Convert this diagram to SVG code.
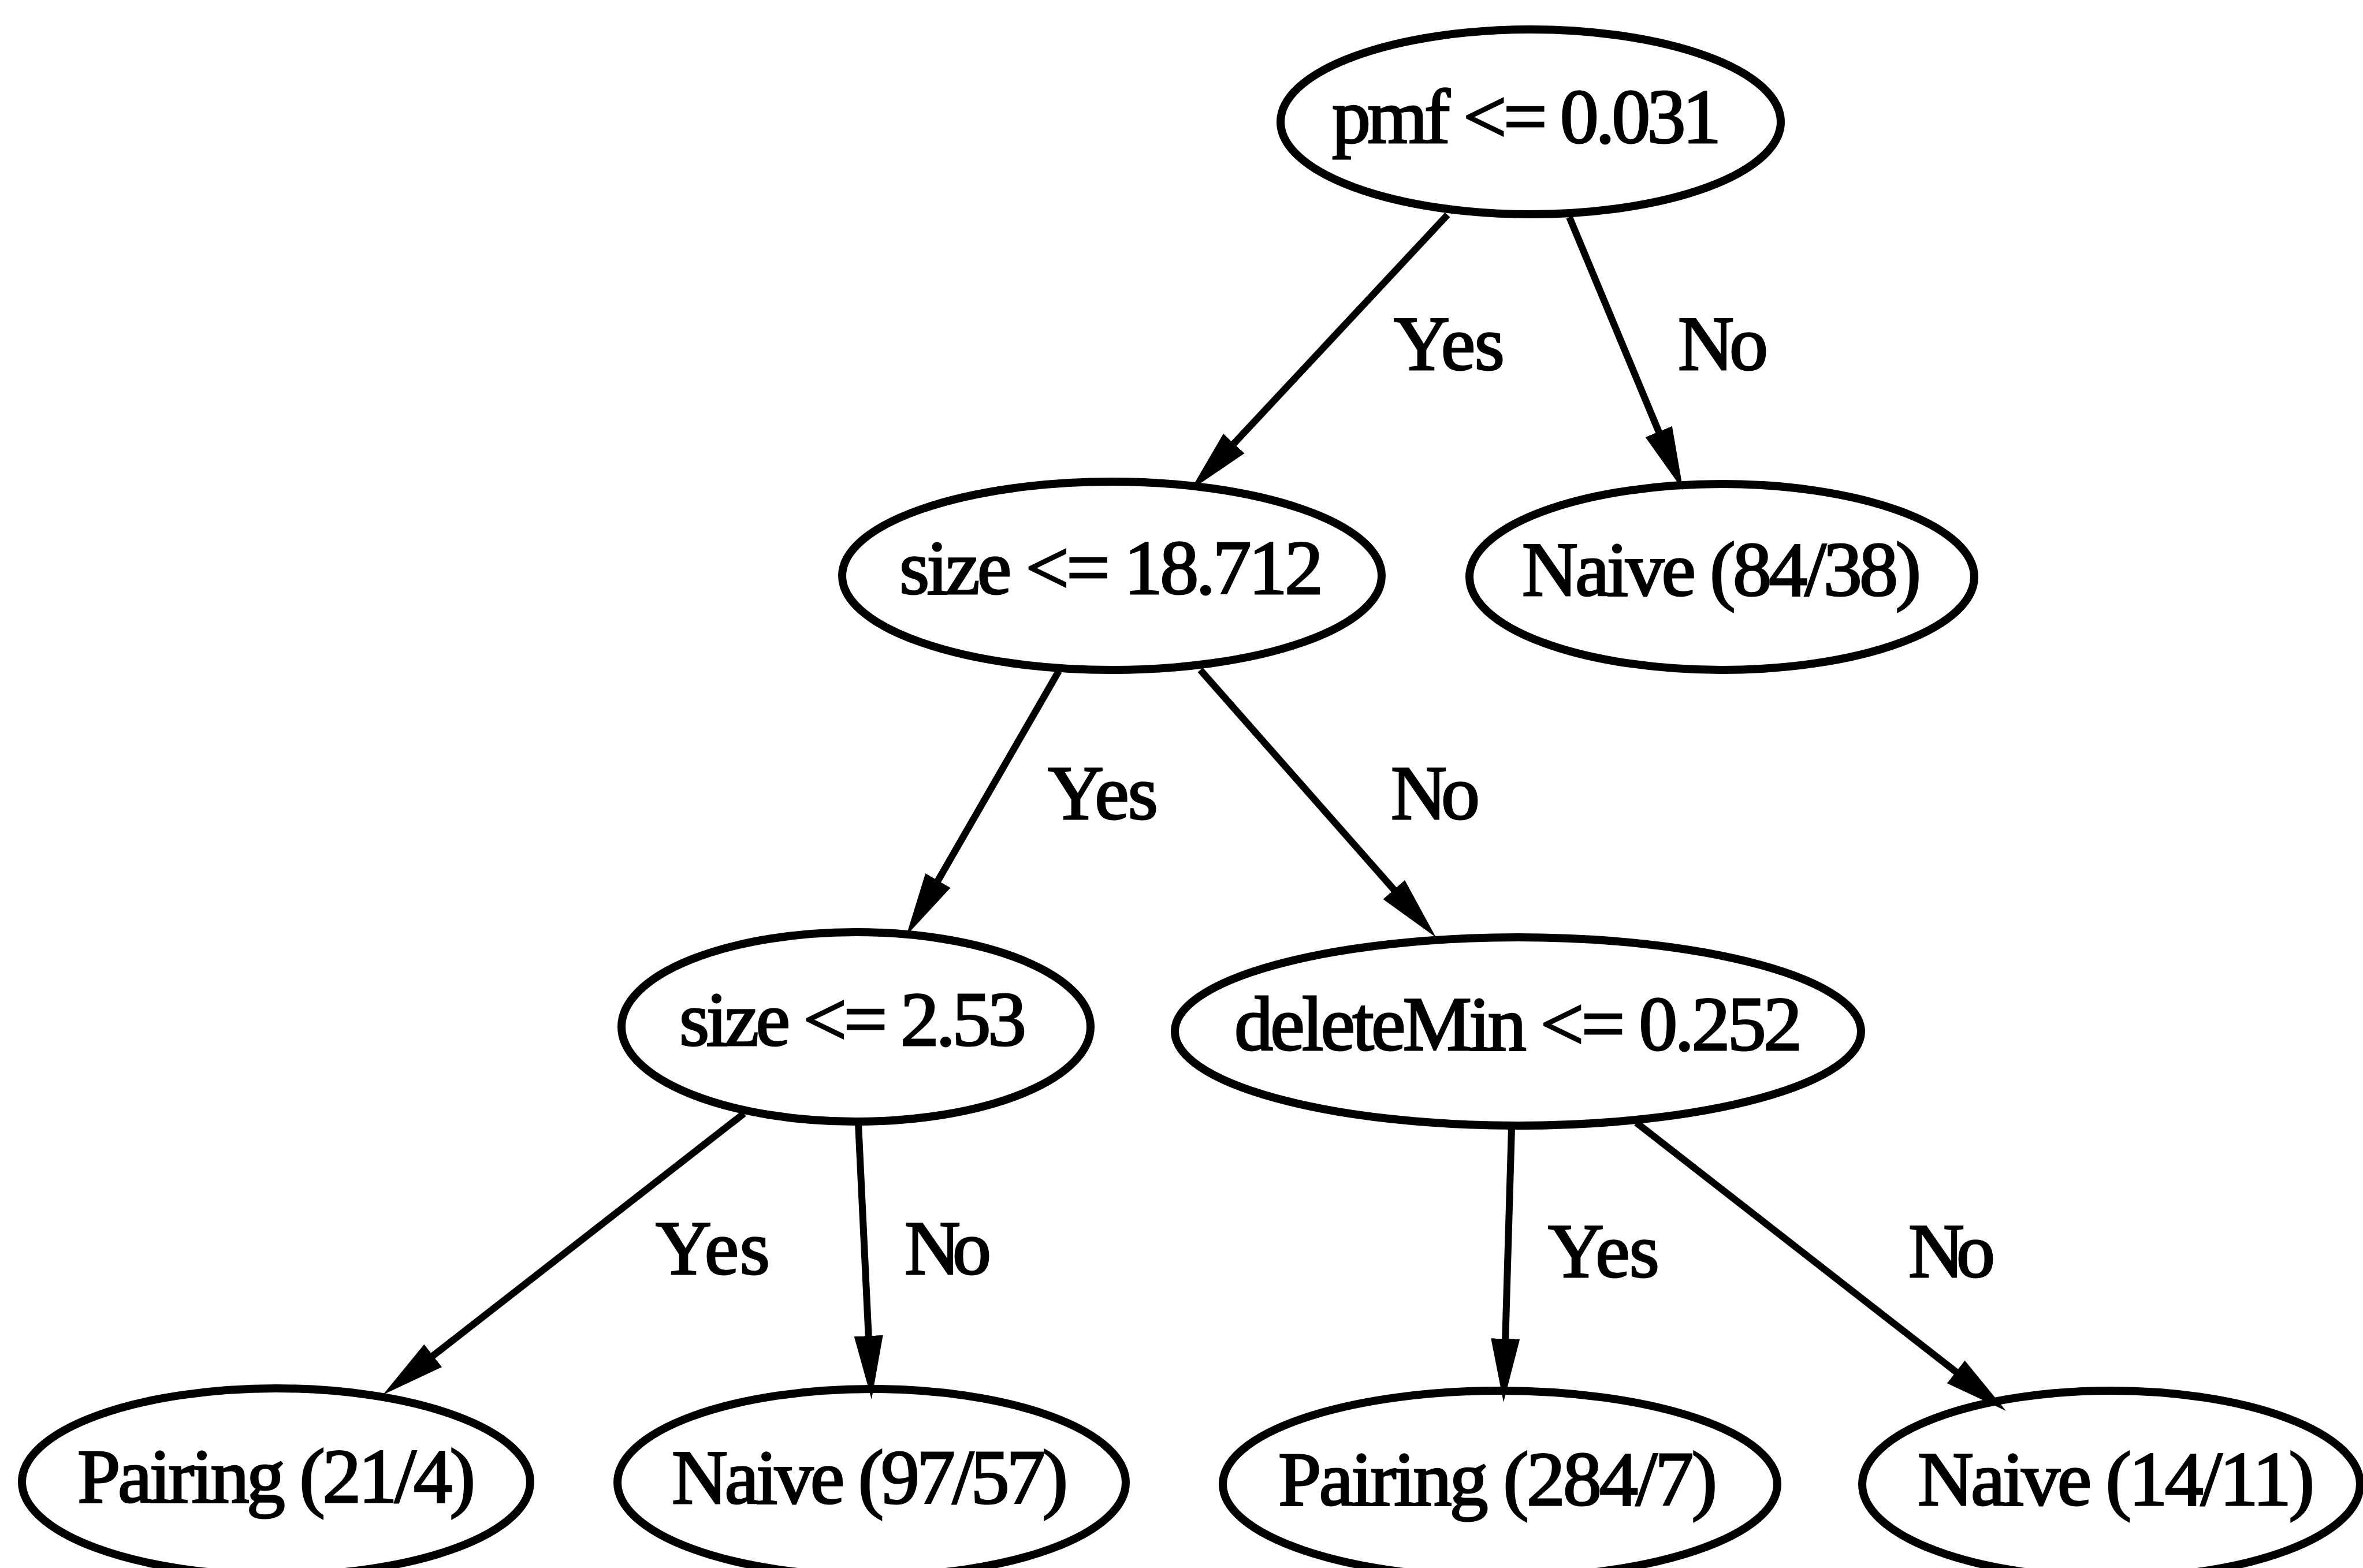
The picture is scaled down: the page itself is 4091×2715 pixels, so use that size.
<svg xmlns="http://www.w3.org/2000/svg" width="4091" height="2715" viewBox="0 0 4091 2715">
<style>
.node ellipse{fill:none;stroke:#000;stroke-width:14}
.edge{stroke:#000;stroke-width:12;fill:none}
text{font-family:"Liberation Serif","Times New Roman",serif;font-size:134px;fill:#000;stroke:#000;stroke-width:3}
</style>
<defs>
<marker id="arr" markerUnits="userSpaceOnUse" markerWidth="110" markerHeight="52" viewBox="0 -26 110 52" refX="15" refY="0" orient="auto">
<path d="M0,-25 L110,0 L0,25 Z" fill="#000"/>
</marker>
</defs>
<rect width="4091" height="2715" fill="#fff"/>
<g id="connectors">
<path class="edge" d="M2506,372 L2126,779" marker-end="url(#arr)"/>
<path class="edge" d="M2717,376 L2877.5,761.3" marker-end="url(#arr)"/>
<path class="edge" d="M1833,1162 L1616.4,1537.7" marker-end="url(#arr)"/>
<path class="edge" d="M2078,1160 L2423.2,1551.7" marker-end="url(#arr)"/>
<path class="edge" d="M1288,1928 L737.9,2356.6" marker-end="url(#arr)"/>
<path class="edge" d="M1486,1945 L1504.4,2328.1" marker-end="url(#arr)"/>
<path class="edge" d="M2617,1953 L2605.8,2333" marker-end="url(#arr)"/>
<path class="edge" d="M2833,1944 L3398.1,2384.6" marker-end="url(#arr)"/>
<text x="2413" y="640" textLength="192">Yes</text>
<text x="2905" y="640" textLength="156">No</text>
<text x="1814" y="1418" textLength="191">Yes</text>
<text x="2408" y="1418" textLength="154">No</text>
<text x="1135" y="2206" textLength="198">Yes</text>
<text x="1566" y="2206" textLength="150">No</text>
<text x="2680" y="2211" textLength="193">Yes</text>
<text x="3304" y="2211" textLength="150">No</text>
</g>
<g id="n_root" class="node"><ellipse cx="2650" cy="211" rx="433" ry="160"/><text x="2306" y="247" textLength="674">pmf &lt;= 0.031</text></g>
<g id="n_size18" class="node"><ellipse cx="1925" cy="997" rx="467" ry="163"/><text x="1557" y="1028" textLength="734">size &lt;= 18.712</text></g>
<g id="n_naive84" class="node"><ellipse cx="2981" cy="999" rx="437" ry="161"/><text x="2635" y="1031" textLength="691">Naive (84/38)</text></g>
<g id="n_size253" class="node"><ellipse cx="1482" cy="1778" rx="406" ry="164"/><text x="1176" y="1810" textLength="601">size &lt;= 2.53</text></g>
<g id="n_delmin" class="node"><ellipse cx="2628" cy="1786" rx="594" ry="163"/><text x="2137" y="1818" textLength="983">deleteMin &lt;= 0.252</text></g>
<g id="n_pair21" class="node"><ellipse cx="478" cy="2566" rx="440" ry="162"/><text x="134" y="2601" textLength="689">Pairing (21/4)</text></g>
<g id="n_naive97" class="node"><ellipse cx="1509" cy="2567" rx="440" ry="162"/><text x="1163" y="2603" textLength="686">Naive (97/57)</text></g>
<g id="n_pair284" class="node"><ellipse cx="2597" cy="2570" rx="480" ry="162"/><text x="2213" y="2606" textLength="760">Pairing (284/7)</text></g>
<g id="n_naive14" class="node"><ellipse cx="3655" cy="2570" rx="431" ry="162"/><text x="3320" y="2606" textLength="687">Naive (14/11)</text></g>
</svg>
